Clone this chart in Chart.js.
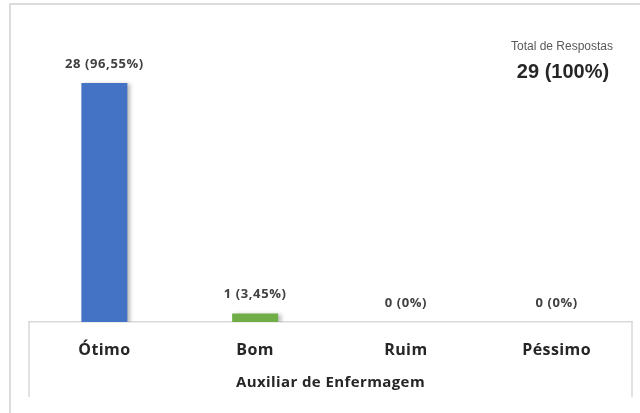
<!DOCTYPE html>
<html>
<head>
<meta charset="utf-8">
<script src="https://cdn.jsdelivr.net/npm/chart.js@4/dist/chart.umd.min.js"></script>
<style>
  html, body { margin: 0; padding: 0; background: #fff; }
  #wrap { width: 640px; height: 413px; position: relative; }
</style>
</head>
<body>
<div id="wrap"><canvas id="chart" width="640" height="413"></canvas></div>
<script>
const categories = ['Ótimo', 'Bom', 'Ruim', 'Péssimo']
const respostas = [28, 1, 0, 0]
const barColors = ['#4472C4', '#70AD47', '#A5A5A5', '#FFC000']
const axisTitle = 'Auxiliar de Enfermagem'
const totalTitle = 'Total de Respostas'

const total = respostas.reduce((a, b) => a + b, 0)

const pct = (v) => {
    const p = v / total * 100
    return Number.isInteger(p) ? `${p}%` : `${p.toFixed(2).replace('.', ',')}%`
}

// frame, box lines under the axis, value labels and the total in the corner
const extras = {
    id: 'extras',
    beforeDraw(chart) {
        const ctx = chart.ctx
        ctx.letterSpacing = '0.4px'
        ctx.save()
        ctx.strokeStyle = '#dcdcdc'
        ctx.lineWidth = 2
        ctx.beginPath()
        ctx.moveTo(10, 413)
        ctx.lineTo(10, 4)
        ctx.lineTo(640, 4)
        ctx.stroke()
        ctx.restore()
    },
    beforeDatasetsDraw(chart) {
        const ctx = chart.ctx
        ctx.save()
        ctx.shadowColor = 'rgba(0,0,0,0.28)'
        ctx.shadowOffsetX = 3
        ctx.shadowOffsetY = 1
        ctx.shadowBlur = 4
    },
    afterDatasetsDraw(chart) {
        chart.ctx.restore()
    },
    afterDraw(chart) {
        const ctx = chart.ctx
        const area = chart.chartArea
        ctx.save()
        ctx.strokeStyle = '#d9d9d9'
        ctx.lineWidth = 1.5
        ctx.beginPath()
        ctx.moveTo(area.left, area.bottom)
        ctx.lineTo(area.left, area.bottom + 75)
        ctx.moveTo(area.right, area.bottom)
        ctx.lineTo(area.right, area.bottom + 75)
        ctx.stroke()

        ctx.letterSpacing = '0.6px'
        ctx.fillStyle = '#404040'
        ctx.font = 'bold 13px "Open Sans"'
        ctx.textAlign = 'center'
        ctx.textBaseline = 'middle'
        chart.getDatasetMeta(0).data.forEach((bar, i) => {
            const v = respostas[i]
            ctx.fillText(`${v} (${pct(v)})`, bar.x, bar.y - 19)
        })

        ctx.letterSpacing = '0px'
        ctx.fillStyle = '#595959'
        ctx.font = '12px "Liberation Sans Narrow", "Liberation Sans"'
        ctx.fillText(totalTitle, 562, 47)
        ctx.fillStyle = '#262626'
        ctx.font = 'bold 20px "Liberation Sans"'
        ctx.fillText(`${total} (${pct(total)})`, 563, 72)
        ctx.restore()
    }
}

const myChart = new Chart(document.getElementById('chart').getContext('2d'), {
    type: 'bar',
    data: {
        labels: categories,
        datasets: [{
            data: respostas,
            backgroundColor: barColors,
            borderWidth: 0,
            categoryPercentage: 1,
            barPercentage: 0.305
        }]
    },
    options: {
        responsive: false,
        animation: false,
        events: [],
        layout: {
            padding: { top: 66, left: 29, right: 8, bottom: 0 }
        },
        plugins: {
            legend: { display: false },
            tooltip: { enabled: false }
        },
        scales: {
            y: {
                display: false,
                min: 0,
                max: 30
            },
            x: {
                afterFit: (scale) => { scale.height = 91 },
                grid: {
                    display: true,
                    drawOnChartArea: false,
                    drawTicks: false,
                    color: 'transparent'
                },
                border: { display: true, color: '#d9d9d9', width: 1.5 },
                ticks: {
                    padding: 19,
                    color: '#262626',
                    font: { family: 'Open Sans', size: 16, weight: 'bold' }
                },
                title: {
                    display: true,
                    text: axisTitle,
                    color: '#262626',
                    padding: { top: 0, bottom: 21 },
                    font: { family: 'Open Sans', size: 15, weight: 'bold' }
                }
            }
        }
    },
    plugins: [extras]
})
</script>
</body>
</html>
